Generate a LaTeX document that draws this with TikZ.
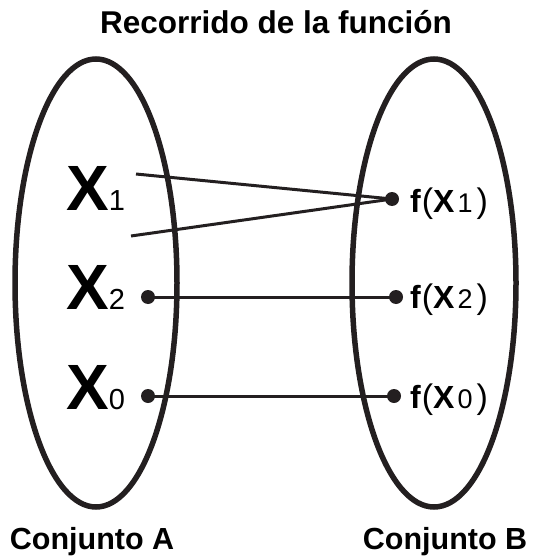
\documentclass[tikz,border=0pt]{standalone}
\usepackage{fontspec}
\setmainfont{Liberation Sans}
\definecolor{ink}{HTML}{231F20}
\begin{document}
\begin{tikzpicture}[x=1pt,y=-1pt,
  setell/.style={draw=ink,line width=5.5pt},
  link/.style={draw=ink,line width=3pt},
  dot/.style={circle,fill=ink,inner sep=0pt,minimum size=14pt},
  headtxt/.style={font=\fontsize{31.5}{31.5}\selectfont\bfseries,text=black,inner sep=0pt,anchor=base},
  bigx/.style={text=black,inner sep=0pt,anchor=base west},
  ftxt/.style={text=black,inner sep=0pt,anchor=base west}]
\useasboundingbox (0,0) rectangle (534,556);
\newcommand{\BX}[1]{{\fontsize{64}{64}\selectfont\bfseries X}{\fontsize{29}{29}\selectfont #1}}
\newcommand{\FX}[1]{{\fontsize{32}{32}\selectfont\bfseries f}\kern1pt{\fontsize{34}{34}\selectfont (}{\fontsize{32}{32}\selectfont\bfseries X}\kern3pt{\fontsize{27}{27}\selectfont #1}\kern4pt{\fontsize{34}{34}\selectfont )}}
% title
\node[headtxt] (title) at (276,34) {Recorrido de la función};
% sets
\draw[setell] (96,283) ellipse [x radius=81, y radius=224];
\draw[setell] (434,283) ellipse [x radius=82, y radius=224];
\node[headtxt,font=\fontsize{30.5}{30.5}\selectfont\bfseries] (setA) at (92,549) {Conjunto A};
\node[headtxt,font=\fontsize{30.5}{30.5}\selectfont\bfseries] (setB) at (445,549) {Conjunto B};
% elements of A
\node[bigx] (x1) at (66,210) {\BX{1}};
\node[bigx] (x2) at (66,309) {\BX{2}};
\node[bigx] (x0) at (66,409) {\BX{0}};
\coordinate (s1a) at (136,174);
\coordinate (s1b) at (131,236);
\node[dot] (d2) at (148,297) {};
\node[dot] (d0) at (148,396) {};
% elements of B
\node[dot] (e1) at (392,199) {};
\node[dot] (e2) at (396,297) {};
\node[dot] (e0) at (394,396) {};
\node[ftxt] (f1) at (410,212) {\FX{1}};
\node[ftxt] (f2) at (410,308) {\FX{2}};
\node[ftxt] (f0) at (410,408) {\FX{0}};
% connectors
\draw[link] (s1a) -- (e1.center);
\draw[link] (s1b) -- (e1.center);
\draw[link] (d2.center) -- (e2.center);
\draw[link] (d0.center) -- (e0.center);
\end{tikzpicture}
\end{document}
